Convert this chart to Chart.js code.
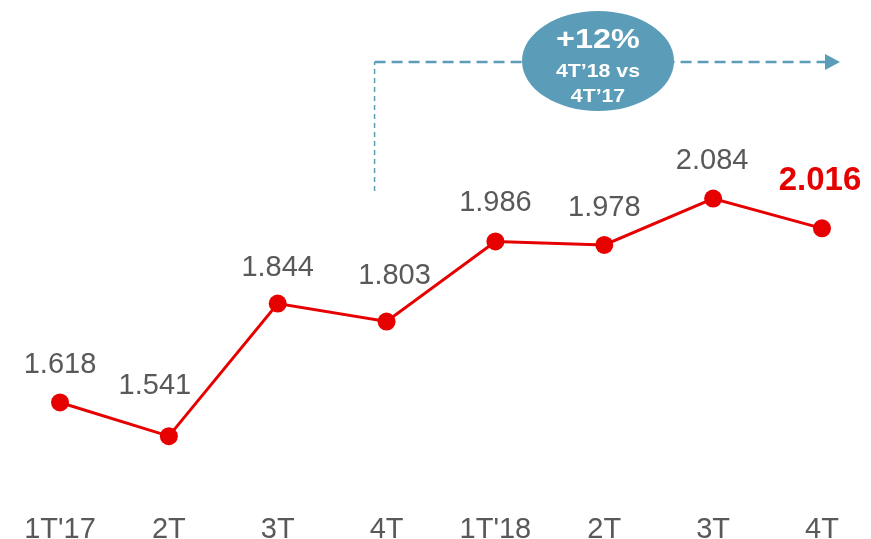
<!DOCTYPE html>
<html>
<head>
<meta charset="utf-8">
<script src="https://cdn.jsdelivr.net/npm/chart.js@4/dist/chart.umd.min.js"></script>
<style>
  html, body { margin: 0; padding: 0; background: #fff; }
  #wrap { width: 871px; height: 539px; position: relative; }
</style>
</head>
<body>
<div id="wrap"><canvas id="chart"></canvas></div>
<script>
'use strict';

// ===== データ =====
const quarters = ["1T'17", '2T', '3T', '4T', "1T'18", '2T', '3T', '4T'];
const values   = [1.618, 1.541, 1.844, 1.803, 1.986, 1.978, 2.084, 2.016];
const valueLabels = ['1.618', '1.541', '1.844', '1.803', '1.986', '1.978', '2.084', '2.016'];

const badgeMain = '+12%';
const badgeSub  = ['4T\u201918 vs', '4T\u201917'];

// ラベル位置の微調整 (px)
const labelDx = [0, -14, 0, 8, 0, 0, -1, -2];
const labelDy = [37, 50, 36, 46, 38, 37, 38, 47];

const RED   = '#e60000';
const GREY  = '#595959';
const TEAL  = '#5b9db8';
const FONT  = '"Liberation Sans", Arial, sans-serif';

// ===== 値ラベル =====
const valueLabelPlugin = {
    id: 'valueLabels',
    afterDatasetsDraw(chart) {
        const { ctx } = chart;
        const meta = chart.getDatasetMeta(0);
        ctx.save();
        ctx.textAlign = 'center';
        ctx.textBaseline = 'middle';
        meta.data.forEach((pt, i) => {
            const last = i === meta.data.length - 1;
            ctx.font = last ? `bold 33px ${FONT}` : `29px ${FONT}`;
            ctx.fillStyle = last ? RED : GREY;
            ctx.fillText(valueLabels[i], pt.x + labelDx[i], pt.y - labelDy[i]);
        });
        ctx.restore();
    },
};

// 横に少し伸ばした文字
function stretchedText(ctx, text, x, y, sx) {
    ctx.save();
    ctx.translate(x, y);
    ctx.scale(sx, 1);
    ctx.fillText(text, 0, 0);
    ctx.restore();
}

// ===== 比較バッジ（点線・矢印・楕円） =====
const badgePlugin = {
    id: 'badge',
    afterDraw(chart) {
        const { ctx } = chart;
        const xs = chart.scales.x;
        const xStart = xs.getPixelForValue(3) - 12;
        const xEnd   = xs.getPixelForValue(7) + 18;
        const yLine  = 62;

        ctx.save();
        ctx.strokeStyle = TEAL;

        // 縦の点線
        ctx.lineWidth = 1.5;
        ctx.setLineDash([5, 4]);
        ctx.beginPath();
        ctx.moveTo(xStart, 191);
        ctx.lineTo(xStart, yLine);
        ctx.stroke();

        // 横の点線
        ctx.lineWidth = 2.5;
        ctx.setLineDash([11, 6]);
        ctx.beginPath();
        ctx.moveTo(xStart, yLine);
        ctx.lineTo(xEnd - 14, yLine);
        ctx.stroke();

        // 矢印
        ctx.setLineDash([]);
        ctx.fillStyle = TEAL;
        ctx.beginPath();
        ctx.moveTo(xEnd - 15, yLine - 8);
        ctx.lineTo(xEnd, yLine);
        ctx.lineTo(xEnd - 15, yLine + 8);
        ctx.closePath();
        ctx.fill();

        // 楕円
        const cx = 598, cy = 61;
        ctx.beginPath();
        ctx.ellipse(cx, cy, 76, 50, 0, 0, Math.PI * 2);
        ctx.fill();

        ctx.fillStyle = '#fff';
        ctx.textAlign = 'center';
        ctx.textBaseline = 'middle';
        ctx.font = `bold 27px ${FONT}`;
        stretchedText(ctx, badgeMain, cx, 41, 1.2);
        ctx.font = `bold 19px ${FONT}`;
        stretchedText(ctx, badgeSub[0], cx, 72, 1.12);
        stretchedText(ctx, badgeSub[1], cx, 97, 1.12);
        ctx.restore();
    },
};

new Chart(document.getElementById('chart'), {
    type: 'line',
    data: {
        labels: quarters,
        datasets: [{
            data: values,
            borderColor: RED,
            backgroundColor: RED,
            borderWidth: 3,
            pointRadius: 9,
            pointHoverRadius: 9,
            pointBackgroundColor: RED,
            pointBorderWidth: 0,
            tension: 0,
            fill: false,
        }],
    },
    options: {
        responsive: true,
        maintainAspectRatio: false,
        animation: false,
        layout: { padding: { left: 60, right: 49, top: 0, bottom: 0 } },
        plugins: {
            legend: { display: false },
            tooltip: { enabled: false },
        },
        scales: {
            x: {
                offset: false,
                grid: { display: false },
                border: { display: false },
                ticks: {
                    padding: 5,
                    color: GREY,
                    font: { family: FONT, size: 29 },
                    maxRotation: 0,
                    autoSkip: false,
                },
                afterFit(scale) { scale.height = 39; },
            },
            y: {
                display: false,
                min: 1.395,
                max: 2.5175,
            },
        },
    },
    plugins: [valueLabelPlugin, badgePlugin],
});
</script>
</body>
</html>
